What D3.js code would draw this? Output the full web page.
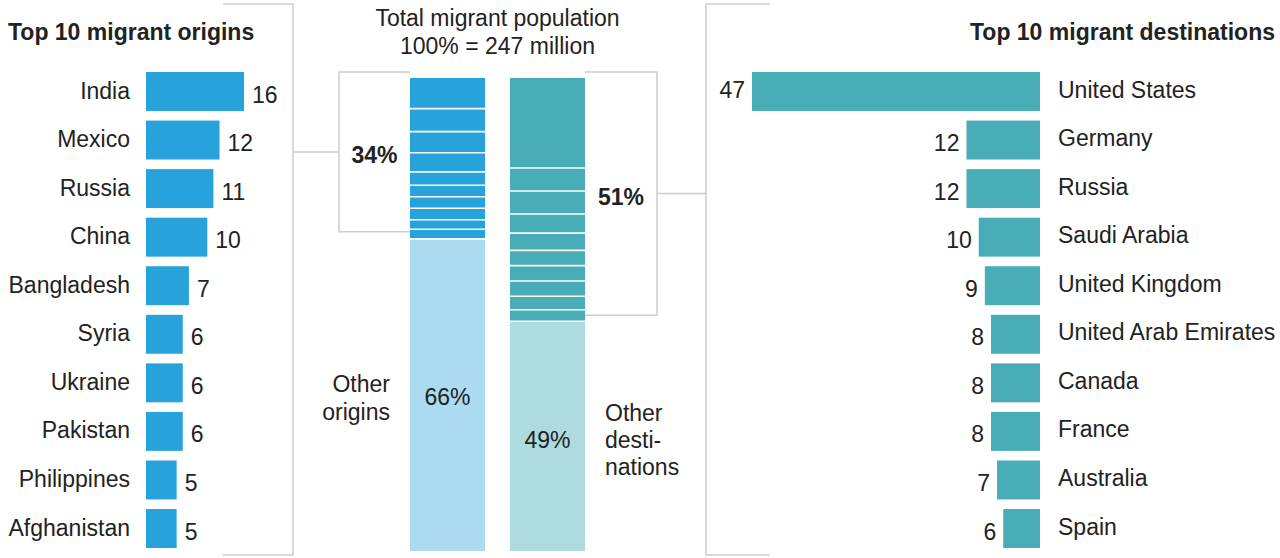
<!DOCTYPE html>
<html>
<head>
<meta charset="utf-8">
<script src="https://cdn.jsdelivr.net/npm/d3@7"></script>
<style>
  html, body { margin: 0; padding: 0; background: #fff; }
  svg { display: block; }
  text { font-family: "Liberation Sans", Arial, sans-serif; fill: #222; }
</style>
</head>
<body>
<svg id="chart" width="1280" height="558"></svg>
<script>
// Migrants by country of origin and destination, millions
const originNames = ["India", "Mexico", "Russia", "China", "Bangladesh", "Syria", "Ukraine", "Pakistan", "Philippines", "Afghanistan"];
const originValues = [16, 12, 11, 10, 7, 6, 6, 6, 5, 5];
const destNames = ["United States", "Germany", "Russia", "Saudi Arabia", "United Kingdom", "United Arab Emirates", "Canada", "France", "Australia", "Spain"];
const destValues = [47, 12, 12, 10, 9, 8, 8, 8, 7, 6];
const totalMigrants = 247;
const titleLines = ["Total migrant population", "100% = 247 million"];

const C = {
  origin: "#27a2db", originLight: "#acdbf1",
  dest: "#48adb6", destLight: "#aedbdd",
  rule: "#cdcdcd", text: "#222"
};
const FS = 23;

const svg = d3.select("#chart");

// shared scales
const x = d3.scaleLinear().domain([0, 47]).range([0, 288]);
const y = d3.scaleBand().domain(d3.range(10)).range([72, 548]).paddingInner(0.198);
const yStack = d3.scaleLinear().domain([0, totalMigrants]).range([78, 551]);

// ---------- left panel: origins ----------
const leftX = 146;
svg.append("text").attr("x", 8).attr("y", 40)
  .attr("font-size", FS).attr("font-weight", "bold").text("Top 10 migrant origins");

const gL = svg.append("g");
gL.selectAll("rect").data(originValues).join("rect")
  .attr("x", leftX).attr("y", (d, i) => y(i))
  .attr("width", d => x(d)).attr("height", y.bandwidth())
  .attr("fill", C.origin);
gL.selectAll("text.name").data(originNames).join("text").attr("class", "name")
  .attr("x", leftX - 16).attr("y", (d, i) => y(i) + y.bandwidth() / 2 - 1).attr("dy", "0.35em")
  .attr("text-anchor", "end").attr("font-size", FS).text(d => d);
gL.selectAll("text.val").data(originValues).join("text").attr("class", "val")
  .attr("x", d => leftX + x(d) + 8).attr("y", (d, i) => y(i) + y.bandwidth() / 2 + 3).attr("dy", "0.35em")
  .attr("font-size", FS).text(d => d);

// ---------- right panel: destinations ----------
const rightX = 1040;
svg.append("text").attr("x", 1275).attr("y", 40).attr("text-anchor", "end")
  .attr("font-size", FS).attr("font-weight", "bold").text("Top 10 migrant destinations");

const gR = svg.append("g");
gR.selectAll("rect").data(destValues).join("rect")
  .attr("x", d => rightX - x(d)).attr("y", (d, i) => y(i))
  .attr("width", d => x(d)).attr("height", y.bandwidth())
  .attr("fill", C.dest);
gR.selectAll("text.name").data(destNames).join("text").attr("class", "name")
  .attr("x", rightX + 18).attr("y", (d, i) => y(i) + y.bandwidth() / 2 - 2).attr("dy", "0.35em")
  .attr("font-size", FS).text(d => d);
gR.selectAll("text.val").data(destValues).join("text").attr("class", "val")
  .attr("x", d => rightX - x(d) - 7).attr("y", (d, i) => y(i) + y.bandwidth() / 2 + (i === 0 ? -2 : 3)).attr("dy", "0.35em")
  .attr("text-anchor", "end").attr("font-size", FS).text(d => d);

// ---------- centre: stacked share columns ----------
svg.selectAll("text.title").data(titleLines).join("text").attr("class", "title")
  .attr("x", 497.5).attr("y", (d, i) => 26 + i * 28).attr("text-anchor", "middle")
  .attr("font-size", FS).text(d => d);

function stackColumn(values, x0, dark, light) {
  const ends = d3.cumsum(values);
  const starts = [0, ...ends.slice(0, -1)];
  const top = ends[ends.length - 1];
  const g = svg.append("g");
  g.selectAll("rect.seg").data(values).join("rect").attr("class", "seg")
    .attr("x", x0).attr("width", 75)
    .attr("y", (d, i) => yStack(starts[i]))
    .attr("height", (d, i) => yStack(ends[i]) - yStack(starts[i]))
    .attr("fill", dark);
  g.append("rect").attr("x", x0).attr("width", 75)
    .attr("y", yStack(top)).attr("height", yStack(totalMigrants) - yStack(top))
    .attr("fill", light);
  g.selectAll("line.sep").data(ends).join("line").attr("class", "sep")
    .attr("x1", x0).attr("x2", x0 + 75)
    .attr("y1", d => yStack(d)).attr("y2", d => yStack(d))
    .attr("stroke", "#fff").attr("stroke-width", 1.6);
  return top;
}

const originTop = stackColumn(originValues, 410, C.origin, C.originLight);
const destTop = stackColumn(destValues, 510, C.dest, C.destLight);
const originPct = Math.round(originTop / totalMigrants * 100);
const destPct = Math.round(destTop / totalMigrants * 100);

// percentages inside the "other" segments
svg.append("text").attr("x", 447.5).attr("y", (yStack(originTop) + yStack(totalMigrants)) / 2 + 2)
  .attr("dy", "0.35em").attr("text-anchor", "middle").attr("font-size", FS).text((100 - originPct) + "%");
svg.append("text").attr("x", 547.5).attr("y", (yStack(destTop) + yStack(totalMigrants)) / 2 + 4)
  .attr("dy", "0.35em").attr("text-anchor", "middle").attr("font-size", FS).text((100 - destPct) + "%");

svg.selectAll("text.oo").data(["Other", "origins"]).join("text").attr("class", "oo")
  .attr("x", 390).attr("y", (d, i) => 384 + i * 28).attr("dy", "0.35em")
  .attr("text-anchor", "end").attr("font-size", FS).text(d => d);
svg.selectAll("text.od").data(["Other", "desti-", "nations"]).join("text").attr("class", "od")
  .attr("x", 605).attr("y", (d, i) => 413 + i * 27).attr("dy", "0.35em")
  .attr("font-size", FS).text(d => d);

// ---------- brackets, connectors and panel frames ----------
const rules = svg.append("g").attr("fill", "none").attr("stroke", C.rule).attr("stroke-width", 1.5);
const lb = { x0: 410, x1: 339, top: yStack(0) - 6, bot: yStack(originTop) - 7 };
const rb = { x0: 585, x1: 657, top: yStack(0) - 6, bot: yStack(destTop) - 6 };
rules.append("path").attr("d", `M${lb.x0},${lb.top}H${lb.x1}V${lb.bot}H${lb.x0}`);
rules.append("path").attr("d", `M${rb.x0},${rb.top}H${rb.x1}V${rb.bot}H${rb.x0}`);
const lMid = (lb.top + lb.bot) / 2, rMid = (rb.top + rb.bot) / 2;
rules.append("path").attr("d", `M293,${lMid}H${lb.x1}`);
rules.append("path").attr("d", `M706,${rMid}H${rb.x1}`);
rules.append("path").attr("d", "M223,4H293V555H223");
rules.append("path").attr("d", "M770,4H706V555H770");

svg.append("text").attr("x", (lb.x1 + lb.x0) / 2).attr("y", lMid + 3).attr("dy", "0.35em")
  .attr("text-anchor", "middle").attr("font-size", FS).attr("font-weight", "bold").text(originPct + "%");
svg.append("text").attr("x", (rb.x0 + rb.x1) / 2).attr("y", rMid + 3).attr("dy", "0.35em")
  .attr("text-anchor", "middle").attr("font-size", FS).attr("font-weight", "bold").text(destPct + "%");
</script>
</body>
</html>
